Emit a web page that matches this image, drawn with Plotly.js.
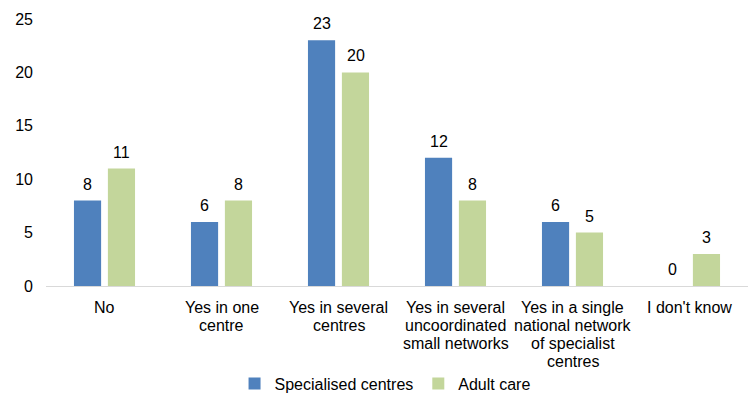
<!DOCTYPE html>
<html>
<head>
<meta charset="utf-8">
<script src="https://cdn.plot.ly/plotly-3.0.1.min.js"></script>
<style>html,body{margin:0;padding:0;background:#fff;}#chart{width:755px;height:405px;}</style>
</head>
<body>
<div id="chart"></div>
<script>
const categories = [
  "No",
  "Yes in one<br>centre",
  "Yes in several<br>centres",
  "Yes in several<br>uncoordinated<br>small networks",
  "Yes in a single<br>national network<br>of specialist<br>centres",
  "I don't know"
];
const specialised = [8, 6, 23, 12, 6, 0];
const adultCare = [11, 8, 20, 8, 5, 3];
const yTicks = [0, 5, 10, 15, 20, 25];

const font = {family: "Liberation Sans, Arial, sans-serif", size: 16, color: "#000"};

const traces = [
  {type: "bar", name: "Specialised centres", x: categories, y: specialised,
   marker: {color: "#4F81BD"}, hoverinfo: "none"},
  {type: "bar", name: "Adult care", x: categories, y: adultCare,
   marker: {color: "#C3D69B"}, hoverinfo: "none"}
];

const annotations = [];
// value labels above bars
[[specialised, -17], [adultCare, 17]].forEach(([vals, dx]) => {
  vals.forEach((v, i) => {
    annotations.push({x: categories[i], y: v, xref: "x", yref: "y", text: String(v),
      showarrow: false, xshift: dx, yshift: 6, yanchor: "bottom", font: font});
  });
});
// category labels, one line at a time for tighter line spacing
categories.forEach((c) => {
  c.split("<br>").forEach((line, k) => {
    annotations.push({x: c, y: 0, xref: "x", yref: "y", text: line, showarrow: false,
      yanchor: "middle", yshift: -21 - 18 * k, font: font});
  });
});

const layout = {
  width: 755, height: 405,
  margin: {l: 46, r: 7, t: 19, b: 119},
  paper_bgcolor: "#fff", plot_bgcolor: "#fff",
  font: font,
  barmode: "group", bargap: 0.42, bargroupgap: 0.2,
  showlegend: true,
  legend: {orientation: "h", x: 0.51, xanchor: "center", xref: "container",
           y: 0.053, yanchor: "middle", yref: "container",
           font: font, traceorder: "normal", itemwidth: 30},
  annotations: annotations,
  xaxis: {showline: true, linecolor: "#D9D9D9", linewidth: 1, ticks: "", showticklabels: false,
          showgrid: false, zeroline: false, automargin: false},
  yaxis: {range: [0, 25], tickvals: yTicks, ticktext: yTicks.map(String), showgrid: false,
          zeroline: false, showline: false, tickfont: font, ticklabelstandoff: 12, automargin: false}
};

Plotly.newPlot("chart", traces, layout, {displayModeBar: false, staticPlot: true});
</script>
</body>
</html>
